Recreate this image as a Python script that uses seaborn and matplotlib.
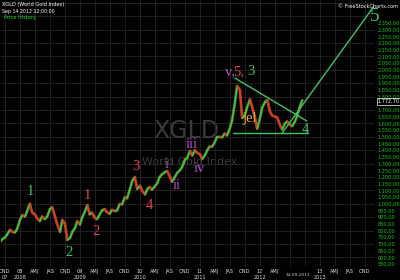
import numpy as np
import pandas as pd
import matplotlib
matplotlib.use("Agg")
import matplotlib.pyplot as plt
import matplotlib.transforms as mtransforms
import seaborn as sns

# ---------------- data ----------------
# semi-monthly closes of the World Gold Index, Sep 2007 .. Sep 14 2012
closes = [
    712, 735, 748, 770, 805, 790, 785, 812,                      # 2007 Sep-Dec
    880, 915, 905, 950, 1000, 935, 920, 890, 870, 905, 885, 905,  # 2008 Jan-Jun
    960, 975, 905, 845, 790, 880, 850, 730, 745, 790, 820, 870,   # 2008 Jul-Dec
    845, 900, 945, 990, 920, 935, 895, 885, 920, 950, 960, 935,   # 2009 Jan-Jun
    925, 955, 945, 950, 1000, 995, 1050, 1040, 1110, 1170, 1200, 1110,  # 2009 Jul-Dec
    1135, 1095, 1070, 1110, 1125, 1105, 1130, 1150, 1200, 1220, 1235, 1245,  # 2010 H1
    1205, 1165, 1200, 1230, 1250, 1275, 1330, 1340, 1395, 1360, 1400, 1380,  # 2010 H2
    1370, 1335, 1365, 1400, 1430, 1425, 1460, 1500, 1500, 1495, 1525, 1510,  # 2011 H1
    1560, 1620, 1750, 1880, 1850, 1640, 1660, 1720, 1780, 1720, 1650, 1560,  # 2011 H2
    1640, 1720, 1760, 1775, 1690, 1660, 1650, 1645, 1590, 1555, 1600, 1615,  # 2012 H1
    1590, 1580, 1615, 1660, 1730, 1772.70,                                    # 2012 Jul-Sep
]
dates = pd.date_range("2007-09-01", "2012-09-15", freq="SMS")
last_price = 1772.70
date_label = "14.09.2012"

y_ticks = list(range(550, 2351, 50))
hidden_ticks = [1750]          # covered by the last-price box
grid_levels = list(range(600, 2501, 100))

quarter_starts = pd.date_range("2007-10-01", "2013-10-01", freq="QS")
quarter_names = {1: "", 4: "AMJ", 7: "JAS", 10: "OND"}

# trend lines (date, price) end points
upper_line = (["2011-08-01", "2012-10-12"], [1939, 1618])
support_line = (["2011-07-20", "2012-10-20"], [1528, 1528])
rising_line = (["2012-05-15", "2013-12-01"], [1528, 2484])

# wave labels: text, date, price, colour key
wave_labels = [
    ("1", "2008-03-05", 1090, "g"), ("2", "2008-10-25", 635, "g"),
    ("1", "2009-02-15", 1060, "r"), ("2", "2009-04-10", 795, "r"),
    ("3", "2009-12-10", 1275, "r"), ("4", "2010-02-25", 990, "r"),
    ("i", "2010-06-10", 1290, "p"), ("ii", "2010-08-10", 1140, "p"),
    ("iii", "2010-11-10", 1440, "p"), ("iv", "2010-12-28", 1260, "p"),
    ("jel", "2011-11-01", 1635, "o"), ("4", "2012-10-01", 1555, "g"),
    ("5", "2013-12-01", 2400, "g"),
]

# ---------------- helpers ----------------
def dec_year(d):
    d = pd.Timestamp(d)
    return d.year + (d.dayofyear - 1) / 365.25

t = np.array([dec_year(d) for d in dates])
price = np.array(closes, dtype=float)

GREEN = "#2ecc40"
RED = "#e8322a"
ORANGE = "#e89a2a"
LINE_G = "#3fc36a"
col = {"g": "#3fbf6f", "r": "#e8404e", "p": "#b452c8", "o": "#e8a848"}

sns.set_theme(style="dark", rc={
    "axes.facecolor": "black", "figure.facecolor": "black",
    "grid.color": "#262626", "axes.edgecolor": "black",
})
plt.rcParams["font.family"] = ["DejaVu Sans"]

fig = plt.figure(figsize=(4, 2.8), dpi=100)
ax = fig.add_axes([0, 13 / 280, 375 / 400, 267 / 280])
ax.set_facecolor("black")

# grid (horizontal every 100, vertical every quarter)
for g in grid_levels:
    ax.axhline(g, color="#252525", lw=0.6, zorder=0)

# base line then direction coloured segments
df = pd.DataFrame({"t": t, "price": price})
sns.lineplot(data=df, x="t", y="price", ax=ax, color=ORANGE, lw=2.0, alpha=0.55)
for i in range(1, len(t)):
    c = GREEN if price[i] >= price[i - 1] else RED
    ax.plot(t[i - 1:i + 1], price[i - 1:i + 1], color=c, lw=1.2, solid_capstyle="round")

# trend lines
for ds, ps in (upper_line, support_line, rising_line):
    ax.plot([dec_year(d) for d in ds], ps, color=LINE_G, lw=1.0, clip_on=False)

ax.set_xlim(2007.667, 2013.917)
ax.set_ylim(527.6, 2521.8)
ax.set_xlabel("")
ax.set_ylabel("")

# y axis on right, formatted like 2.350,00
def fmt(v):
    if v in hidden_ticks:
        return ""
    return f"{v:,.2f}".replace(",", "X").replace(".", ",").replace("X", ".")

ax.yaxis.tick_right()
ax.set_yticks(y_ticks)
ax.set_yticklabels([fmt(v) for v in y_ticks], fontsize=3.6, color="#11cc11")
ax.tick_params(axis="y", length=0, pad=2)
ax.grid(False, axis="y")
ax.grid(True, axis="x", color="#252525", lw=0.6)

# x axis quarter labels with year row
xt = [dec_year(d) for d in quarter_starts]
labels = []
for d in quarter_starts:
    if d.year == 2012 and d.month in (7, 10):
        labels.append("")
    elif d.month == 1:
        labels.append(f"{d.year % 100:02d}\n{d.year}")
    elif d.year == 2007:
        labels.append("OND\n07")
    else:
        labels.append(quarter_names[d.month])
ax.set_xticks(xt)
ax.set_xticklabels(labels, fontsize=3.6, color="#dddddd", linespacing=1.3)
ax.tick_params(axis="x", length=0, pad=1.5)
for lab in ax.get_xticklabels():
    lab.set_verticalalignment("top")

trans = mtransforms.blended_transform_factory(ax.transData, ax.transAxes)
ax.text(dec_year("2012-09-14") - 0.07, -0.03, date_label, transform=trans, fontsize=3.2,
        color="#cccccc", ha="center", va="center", clip_on=False)

# watermark
ax.text(2010.77, 1543, "XGLD", fontsize=17, color="#3a3a3a", ha="center", va="center", zorder=0)
ax.text(2010.83, 1312, "World Gold Index", fontsize=8.0, color="#3a3a3a", ha="center", va="center", zorder=0)

# wave labels
serif = ["Liberation Serif", "DejaVu Serif"]
for txt, d, p, k in wave_labels:
    size = 14 if txt == "5" and k == "g" and p > 2000 else 10.5
    ax.text(dec_year(d), p, txt, color=col[k], fontsize=size, family=serif,
            ha="center", va="center", clip_on=False, zorder=5)
# "v,5,3" combined top label
ax.text(dec_year("2011-07-01"), 1990, "v,", color=col["p"], fontsize=10.5, family=serif, ha="center", va="center")
ax.text(dec_year("2011-08-25"), 1990, "5,", color=col["r"], fontsize=10.5, family=serif, ha="center", va="center")
ax.text(dec_year("2011-11-10"), 1990, "3", color=col["g"], fontsize=10.5, family=serif, ha="center", va="center")

# last price box
fig.text(389 / 400, 1 - 101 / 280, "1.772,70", fontsize=3.6, color="white", ha="center", va="center",
         bbox=dict(boxstyle="square,pad=0.2", fc="black", ec="white", lw=0.5))

# header texts
fig.text(2 / 400, 1 - 4.5 / 280, "XGLD (World Gold Index)", fontsize=3.6, color="white", ha="left", va="center")
fig.text(2 / 400, 1 - 12 / 280, "Sep 14 2012 12:00:00", fontsize=3.4, color="white", ha="left", va="center")
fig.text(4 / 400, 1 - 17 / 280, "Price History", fontsize=3.6, color="#22dd22", ha="left", va="center")
fig.text(398 / 400, 1 - 6 / 280, "\u00a9 FreeStockCharts.com", fontsize=3.6, color="white", ha="right", va="center")

fig.savefig("out.png", dpi=100, facecolor="black")
